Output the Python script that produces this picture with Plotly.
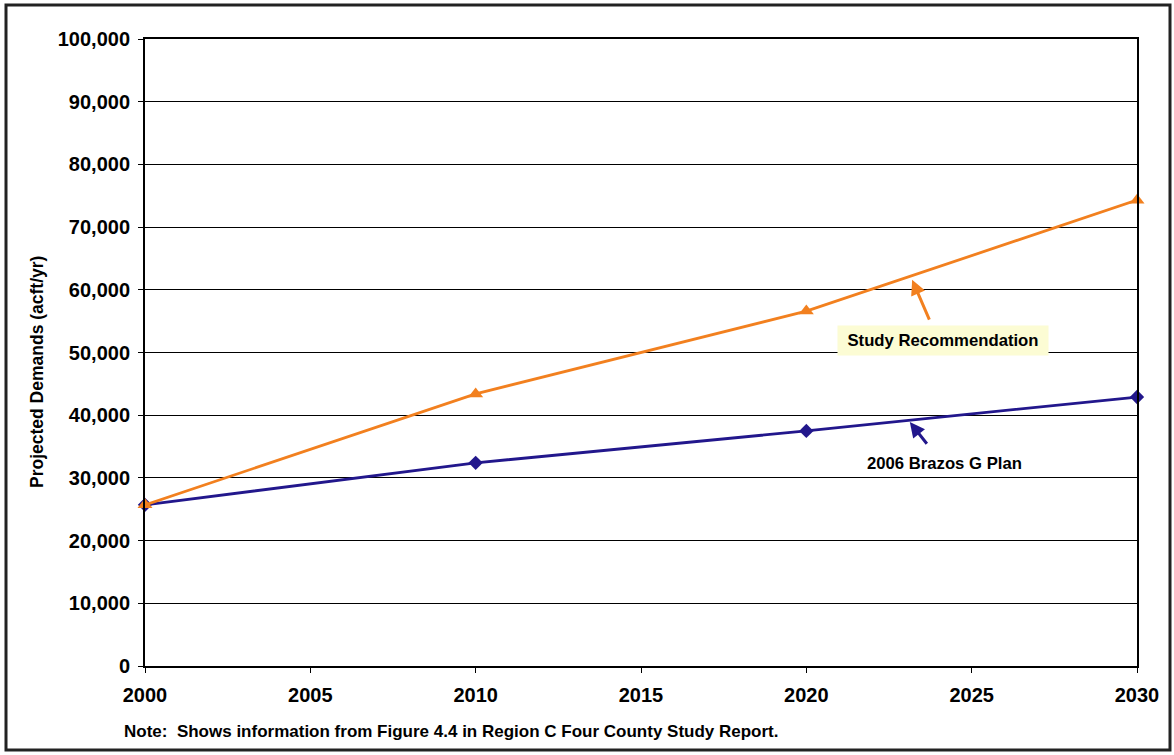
import plotly.graph_objects as go

years = [2000, 2010, 2020, 2030]
study_recommendation = [25700, 43400, 56600, 74300]
brazos_g_plan = [25700, 32400, 37500, 42900]
x_ticks = [2000, 2005, 2010, 2015, 2020, 2025, 2030]
y_ticks = list(range(0, 100001, 10000))

ORANGE = "#F2801F"
NAVY = "#22178C"
FONT = "Liberation Sans, Arial, sans-serif"

# plot area in page pixels
PL, PR, PT, PB = 145, 1137, 39, 666
PW, PH = PR - PL, PB - PT


def px_x(px):
    return (px - PL) / PW


def px_y(py):
    return (PB - py) / PH


fig = go.Figure()
fig.add_trace(go.Scatter(x=years, y=brazos_g_plan, mode="lines+markers",
                         name="2006 Brazos G Plan", cliponaxis=False,
                         line=dict(color=NAVY, width=2.8),
                         marker=dict(symbol="diamond", size=11, color=NAVY)))
fig.add_trace(go.Scatter(x=years, y=study_recommendation, mode="lines+markers",
                         name="Study Recommendation", cliponaxis=False,
                         line=dict(color=ORANGE, width=2.8),
                         marker=dict(symbol="triangle-up", size=13, color=ORANGE)))

fig.update_layout(
    width=1174, height=755,
    margin=dict(l=PL, r=1174 - PR, t=PT, b=755 - PB),
    paper_bgcolor="white", plot_bgcolor="white",
    showlegend=False,
    font=dict(family=FONT, color="black"),
    xaxis=dict(range=[2000, 2030], tickvals=x_ticks, ticktext=[str(v) for v in x_ticks],
               showgrid=False, zeroline=False,
               showline=True, linecolor="black", linewidth=2, mirror=True,
               ticks="outside", ticklen=5, tickcolor="black", ticklabelstandoff=5,
               tickfont=dict(family=FONT, size=20, weight="bold", color="black")),
    yaxis=dict(range=[0, 100000], tickvals=y_ticks, tickformat=",d",
               showgrid=True, gridcolor="black", gridwidth=1, zeroline=False,
               showline=True, linecolor="black", linewidth=2, mirror=True,
               ticks="outside", ticklen=5, tickcolor="black", ticklabelstandoff=4,
               tickfont=dict(family=FONT, size=20, weight="bold", color="black")),
)

# y-axis title
fig.add_annotation(x=px_x(37), y=px_y(372), xref="paper", yref="paper",
                   xanchor="center", yanchor="middle", textangle=-90,
                   text="<b>Projected Demands (acft/yr)</b>", showarrow=False,
                   font=dict(family=FONT, size=17.5, color="black"))

# arrows
fig.add_annotation(x=2023.2, y=61600, ax=2023.74, ay=55000, axref="x", ayref="y",
                   xref="x", yref="y", text="", showarrow=True,
                   arrowhead=2, arrowsize=1, arrowwidth=3, arrowcolor=ORANGE)
fig.add_annotation(x=2023.13, y=38900, ax=2023.68, ay=35200, axref="x", ayref="y",
                   xref="x", yref="y", text="", showarrow=True,
                   arrowhead=2, arrowsize=1, arrowwidth=3, arrowcolor=NAVY)
# labels
fig.add_annotation(x=px_x(943), y=px_y(340), xref="paper", yref="paper",
                   xanchor="center", yanchor="middle",
                   text="<b>Study Recommendation</b>",
                   showarrow=False, bgcolor="#FCFCD4", borderpad=5, width=200,
                   font=dict(family=FONT, size=16.7, color="black"))
fig.add_annotation(x=px_x(944), y=px_y(464), xref="paper", yref="paper",
                   xanchor="center", yanchor="middle",
                   text="<b>2006 Brazos G Plan</b>",
                   showarrow=False,
                   font=dict(family=FONT, size=16.7, color="black"))
# note
fig.add_annotation(x=px_x(122), y=px_y(732), xref="paper", yref="paper",
                   xanchor="left", yanchor="middle",
                   text="<b>Note:&nbsp; Shows information from Figure 4.4 in Region C Four County Study Report.</b>",
                   showarrow=False, font=dict(family=FONT, size=17, color="black"))

# outer frame
fig.add_shape(type="rect", xref="paper", yref="paper",
              x0=px_x(6), x1=px_x(1170), y0=px_y(750), y1=px_y(5),
              line=dict(color="#222222", width=3), layer="above")

fig.write_html("out.html", config={"displayModeBar": False},
               post_script="document.body.style.margin='0';")
